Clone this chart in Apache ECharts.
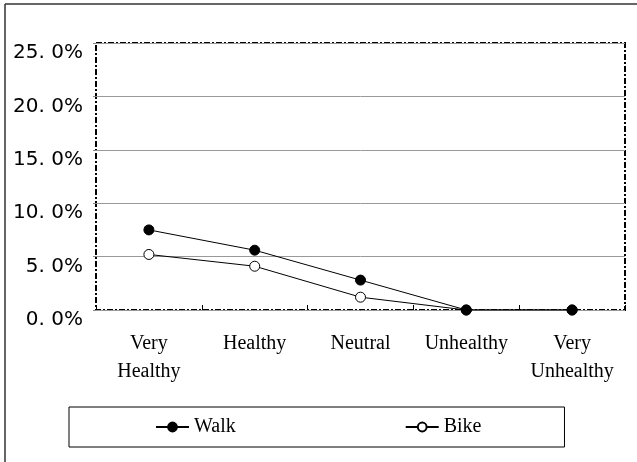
<!DOCTYPE html>
<html>
<head>
<meta charset="utf-8">
<script src="https://cdn.jsdelivr.net/npm/echarts@6/dist/echarts.min.js"></script>
<style>
  html, body { margin: 0; padding: 0; background: #fff; }
  #main { width: 637px; height: 462px; }
</style>
</head>
<body>
<div id="main"></div>
<script>
// categories and values (percent)
var categories = ["Very\nHealthy", "Healthy", "Neutral", "Unhealthy", "Very\nUnhealthy"];
var walk = [7.5, 5.6, 2.8, 0, 0];
var bike = [5.2, 4.1, 1.2, 0, 0];
var yTicks = [0, 5, 10, 15, 20, 25];

var myChart = echarts.init(document.getElementById("main"));

var option = {
  animation: false,
  backgroundColor: "#fff",
  graphic: [
    // outer frame (only left and top are in view)
    { type: "line", shape: { x1: 5, y1: 4, x2: 5, y2: 462 }, style: { stroke: "#333", lineWidth: 1.5 } },
    { type: "line", shape: { x1: 5, y1: 4, x2: 637, y2: 4 }, style: { stroke: "#333", lineWidth: 1.5 } }
  ],
  grid: {
    left: 96,
    top: 43,
    right: 12,
    bottom: 152,
    show: true,
    borderColor: "#000",
    borderWidth: 2,
    borderType: [6, 2, 2, 2]
  },
  legend: {
    data: ["Walk", "Bike"],
    left: 69,
    top: 407,
    itemGap: 169,
    itemWidth: 33,
    itemHeight: 11,
    padding: [10, 83, 10, 86],
    borderColor: "#000",
    borderWidth: 1,
    textStyle: { fontFamily: "Liberation Serif", fontSize: 20, color: "#000" }
  },
  xAxis: {
    type: "category",
    data: categories,
    boundaryGap: true,
    axisLine: { show: false },
    axisTick: { show: true, inside: true, length: 5, lineStyle: { color: "#000" } },
    axisLabel: {
      margin: 20,
      fontFamily: "Liberation Serif",
      fontSize: 20,
      lineHeight: 28,
      color: "#000",
      interval: 0
    },
    splitLine: { show: false }
  },
  yAxis: {
    type: "value",
    min: yTicks[0],
    max: yTicks[yTicks.length - 1],
    interval: 5,
    axisLine: { show: false },
    axisTick: { show: true, length: 3, lineStyle: { color: "#888" } },
    axisLabel: {
      margin: 13,
      fontFamily: "DejaVu Sans",
      fontSize: 20,
      color: "#000",
      verticalAlign: "top",
      formatter: function (v) {
        return v.toFixed(1).replace(".", ". ") + "%";
      }
    },
    splitLine: { show: true, lineStyle: { color: "#999", width: 1 } }
  },
  series: [
    {
      name: "Bike",
      type: "line",
      data: bike,
      symbol: "circle",
      symbolSize: 10,
      lineStyle: { color: "#000", width: 1 },
      itemStyle: { color: "#fff", borderColor: "#000", borderWidth: 1 }
    },
    {
      name: "Walk",
      type: "line",
      data: walk,
      symbol: "circle",
      symbolSize: 10,
      lineStyle: { color: "#000", width: 1 },
      itemStyle: { color: "#000", borderColor: "#000", borderWidth: 1 }
    }
  ]
};

myChart.setOption(option);
</script>
</body>
</html>
